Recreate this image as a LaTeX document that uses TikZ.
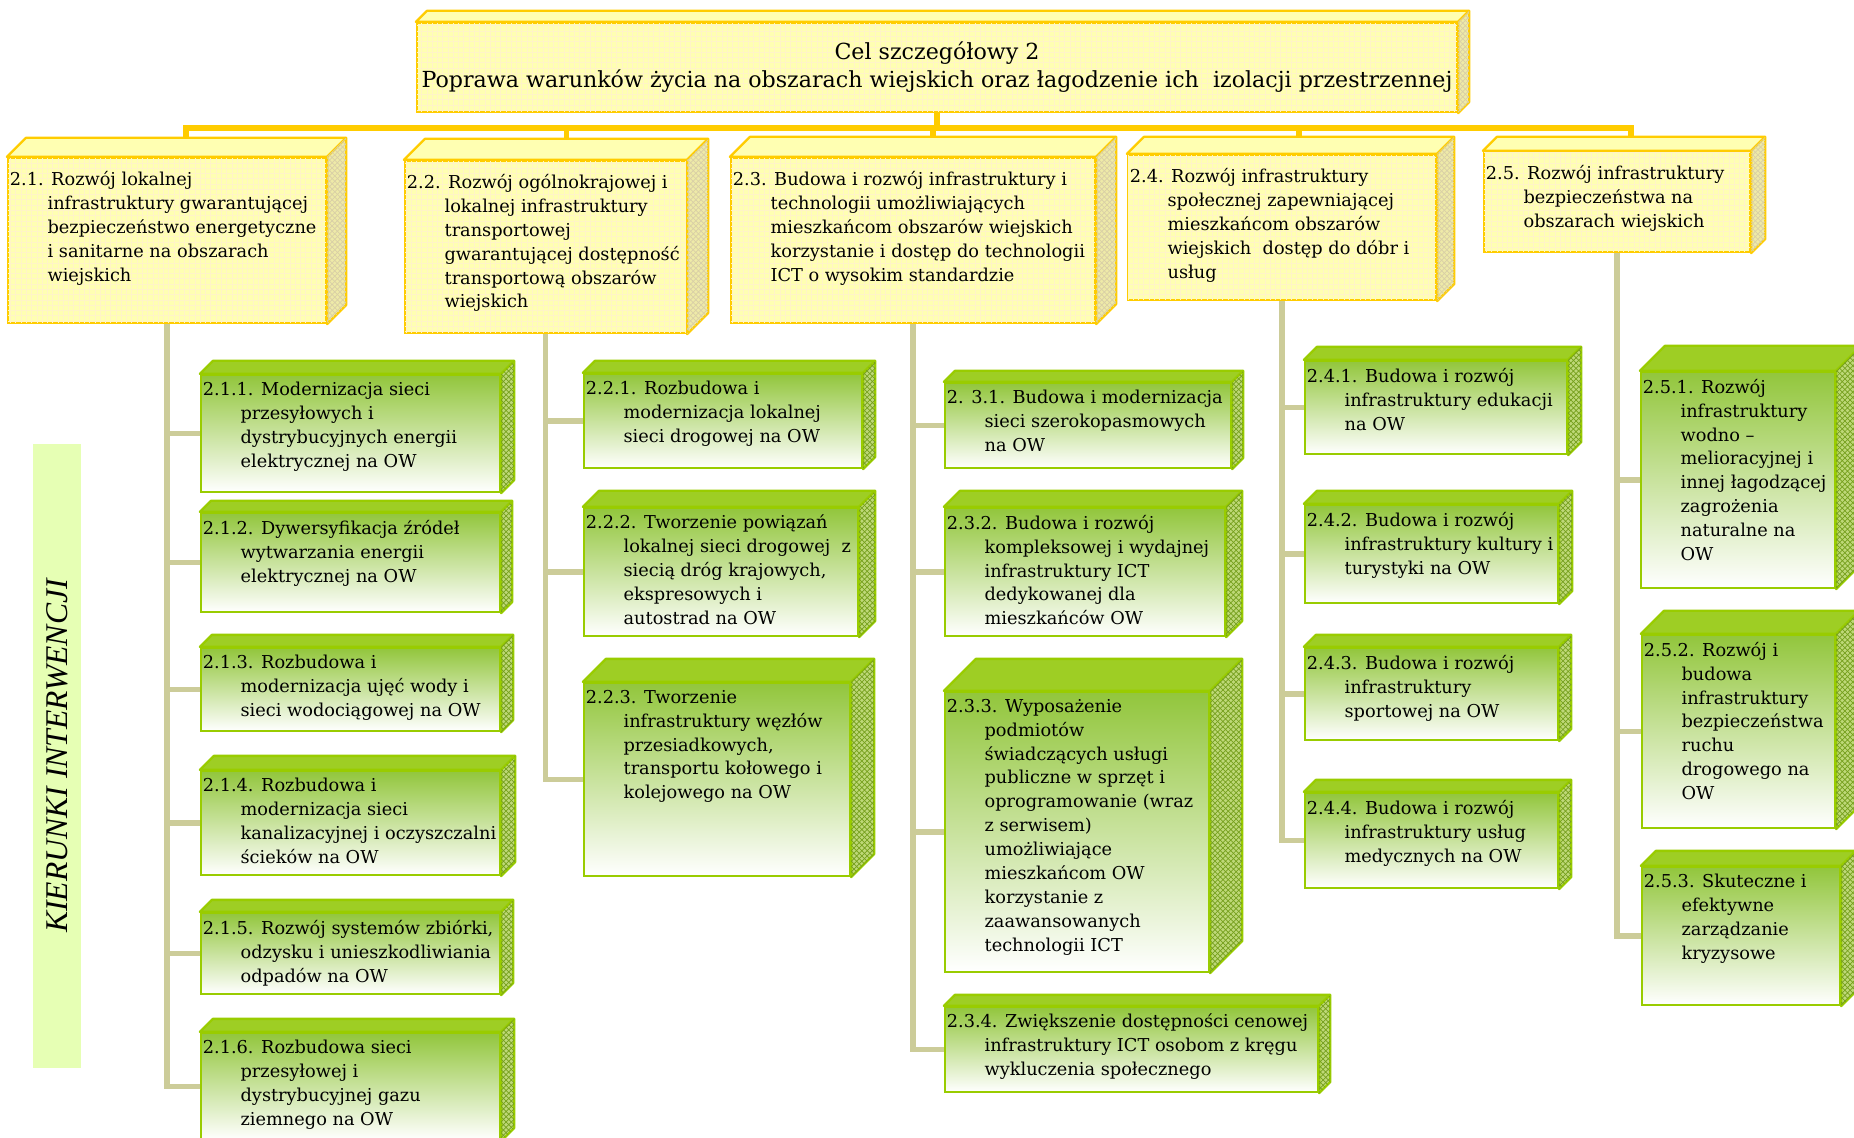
\documentclass[tikz,border=0pt]{standalone}
\usepackage{fontspec}
\setmainfont{DejaVu Serif}
\newfontfamily\sidefont{Liberation Serif}
\usetikzlibrary{calc, fit, patterns}

\definecolor{trunkgold}{RGB}{255,204,0}
\definecolor{boxyellow}{RGB}{255,255,178}
\definecolor{sideyellow}{RGB}{238,234,168}
\definecolor{stemolive}{RGB}{204,204,153}
\definecolor{edgegreen}{RGB}{153,204,0}
\definecolor{topgreen}{RGB}{158,206,36}
\definecolor{sidegreen}{RGB}{190,216,120}
\definecolor{hatchgreen}{RGB}{118,160,30}
\definecolor{shadegreen}{RGB}{146,198,60}
\definecolor{labelgreen}{RGB}{230,255,180}

% continuation line with hanging indent
\newcommand{\nxt}{\\\hspace*{21.5pt}}

\begin{document}
\begin{tikzpicture}[x=0.02cm, y=-0.02cm,
  trunk/.style={draw=trunkgold, line width=3pt},
  stem/.style={draw=stemolive, line width=3.4pt},
  face/.style={inner sep=0pt, line width=1.3pt},
  yface/.style={face, draw=trunkgold, fill=boxyellow, postaction={pattern=grid, pattern color=trunkgold!22}},
  gface/.style={face, draw=edgegreen, top color=shadegreen, bottom color=white},
  ytop/.style={fill=boxyellow, draw=trunkgold, line width=1.3pt, line join=round},
  yside/.style={fill=sideyellow, draw=trunkgold, line width=1.3pt, line join=round, postaction={pattern=crosshatch, pattern color=trunkgold!40!gray!50}},
  gtop/.style={fill=topgreen, draw=edgegreen, line width=1.3pt, line join=round},
  gside/.style={fill=sidegreen, draw=edgegreen, line width=1.3pt, line join=round, postaction={pattern=crosshatch, pattern color=hatchgreen}},
  txt/.style={anchor=north west, align=left, inner xsep=1.5pt, inner ysep=4.5pt, font=\fontsize{10.1}{13.6}\selectfont},
  ytxt/.style={txt, inner ysep=8pt}
]
\useasboundingbox (0,0) rectangle (1854,1138);

% Side label
\node[fill=labelgreen, inner sep=0pt, fit={(33,444) (81,1068)}] (kier) {};
\node[rotate=90, font=\sidefont\itshape\fontsize{18}{20}\selectfont] (kiertxt) at (kier.center) {KIERUNKI INTERWENCJI};

% Goal and priorities
\node[yface, fit={(417,23) (1457,112)}] (cel) {};
\node[yface, fit={(8,158) (326,323)}] (b21) {};
\node[yface, fit={(405,161) (686,333)}] (b22) {};
\node[yface, fit={(731,158) (1095,323)}] (b23) {};
\node[yface, fit={(1128,155) (1436,300)}] (b24) {};
\node[yface, fit={(1484,152) (1750,252)}] (b25) {};

\foreach \nm/\dep in {cel/11, b21/19, b22/21, b23/20, b24/17, b25/14}{
  \filldraw[ytop] (\nm.north west) -- ++(\dep,-\dep) -- ($(\nm.north east)+(\dep,-\dep)$) -- (\nm.north east) -- cycle;
  \filldraw[yside] (\nm.north east) -- ++(\dep,-\dep) -- ($(\nm.south east)+(\dep,-\dep)$) -- (\nm.south east) -- cycle;
}

% Directions of intervention
\node[gface, fit={(201,375) (500,492)}] (b211) {};
\node[gface, fit={(201,513) (500,612)}] (b212) {};
\node[gface, fit={(201,648) (500,731)}] (b213) {};
\node[gface, fit={(201,771) (500,875)}] (b214) {};
\node[gface, fit={(201,913) (500,994)}] (b215) {};
\node[gface, fit={(201,1033) (500,1140)}] (b216) {};

\node[gface, fit={(584,374) (862,468)}] (b221) {};
\node[gface, fit={(584,508) (858,636)}] (b222) {};
\node[gface, fit={(584,683) (850,876)}] (b223) {};

\node[gface, fit={(945,383) (1231,468)}] (b231) {};
\node[gface, fit={(945,508) (1225,636)}] (b232) {};
\node[gface, fit={(945,692) (1209,972)}] (b233) {};
\node[gface, fit={(945,1007) (1318,1092)}] (b234) {};

\node[gface, fit={(1305,361) (1567,454)}] (b241) {};
\node[gface, fit={(1305,505) (1558,603)}] (b242) {};
\node[gface, fit={(1305,648) (1558,740)}] (b243) {};
\node[gface, fit={(1305,793) (1558,888)}] (b244) {};

\node[gface, fit={(1641,372) (1835,588)}] (b251) {};
\node[gface, fit={(1642,635) (1835,828)}] (b252) {};
\node[gface, fit={(1642,867) (1840,1005)}] (b253) {};

\foreach \nm/\dep in {b211/13, b212/11, b213/12, b214/14, b215/12, b216/13,
                      b221/12, b222/16, b223/23,
                      b231/11, b232/16, b233/32, b234/11,
                      b241/13, b242/13, b243/12, b244/12,
                      b251/25, b252/23, b253/15}{
  \filldraw[gtop] (\nm.north west) -- ++(\dep,-\dep) -- ($(\nm.north east)+(\dep,-\dep)$) -- (\nm.north east) -- cycle;
  \filldraw[gside] (\nm.north east) -- ++(\dep,-\dep) -- ($(\nm.south east)+(\dep,-\dep)$) -- (\nm.south east) -- cycle;
}

% Connectors
\coordinate (hub) at (937,128);
\draw[trunk] (cel.south) -- (hub);
\foreach \nm/\dep in {b21/19, b22/21, b23/20, b24/17, b25/14}
  \draw[trunk] (hub) -| ($(\nm.north)+(\dep,-\dep)$);

\foreach \src/\dst in {b21/b211, b21/b212, b21/b213, b21/b214, b21/b215, b21/b216,
                       b22/b221, b22/b222, b22/b223,
                       b23/b231, b23/b232, b23/b233, b23/b234,
                       b24/b241, b24/b242, b24/b243, b24/b244,
                       b25/b251, b25/b252, b25/b253}
  \draw[stem] (\src.south) |- (\dst.west);

% Texts
\node[align=center, font=\fontsize{12.6}{16}\selectfont] (celtxt) at (cel.center) {Cel szczegółowy 2\\Poprawa warunków życia na obszarach wiejskich oraz łagodzenie ich\ \ izolacji przestrzennej};

\node[ytxt] (t21) at (b21.north west) {2.1. Rozwój lokalnej\nxt infrastruktury gwarantującej\nxt bezpieczeństwo energetyczne\nxt i sanitarne na obszarach\nxt wiejskich};
\node[ytxt] (t22) at (b22.north west) {2.2. Rozwój ogólnokrajowej i\nxt lokalnej infrastruktury\nxt transportowej\nxt gwarantującej dostępność\nxt transportową obszarów\nxt wiejskich};
\node[ytxt] (t23) at (b23.north west) {2.3. Budowa i rozwój infrastruktury i\nxt technologii umożliwiających\nxt mieszkańcom obszarów wiejskich\nxt korzystanie i dostęp do technologii\nxt ICT o wysokim standardzie};
\node[ytxt] (t24) at (b24.north west) {2.4. Rozwój infrastruktury\nxt społecznej zapewniającej\nxt mieszkańcom obszarów\nxt wiejskich\ \ dostęp do dóbr i\nxt usług};
\node[ytxt] (t25) at (b25.north west) {2.5. Rozwój infrastruktury\nxt bezpieczeństwa na\nxt obszarach wiejskich};

\node[txt] (t211) at (b211.north west) {2.1.1. Modernizacja sieci\nxt przesyłowych i\nxt dystrybucyjnych energii\nxt elektrycznej na OW};
\node[txt] (t212) at (b212.north west) {2.1.2. Dywersyfikacja źródeł\nxt wytwarzania energii\nxt elektrycznej na OW};
\node[txt] (t213) at (b213.north west) {2.1.3. Rozbudowa i\nxt modernizacja ujęć wody i\nxt sieci wodociągowej na OW};
\node[txt] (t214) at (b214.north west) {2.1.4. Rozbudowa i\nxt modernizacja sieci\nxt kanalizacyjnej i oczyszczalni\nxt ścieków na OW};
\node[txt] (t215) at (b215.north west) {2.1.5. Rozwój systemów zbiórki,\nxt odzysku i unieszkodliwiania\nxt odpadów na OW};
\node[txt] (t216) at (b216.north west) {2.1.6. Rozbudowa sieci\nxt przesyłowej i\nxt dystrybucyjnej gazu\nxt ziemnego na OW};

\node[txt] (t221) at (b221.north west) {2.2.1. Rozbudowa i\nxt modernizacja lokalnej\nxt sieci drogowej na OW};
\node[txt] (t222) at (b222.north west) {2.2.2. Tworzenie powiązań\nxt lokalnej sieci drogowej\ \ z\nxt siecią dróg krajowych,\nxt ekspresowych i\nxt autostrad na OW};
\node[txt] (t223) at (b223.north west) {2.2.3. Tworzenie\nxt infrastruktury węzłów\nxt przesiadkowych,\nxt transportu kołowego i\nxt kolejowego na OW};

\node[txt] (t231) at (b231.north west) {2. 3.1. Budowa i modernizacja\nxt sieci szerokopasmowych\nxt na OW};
\node[txt] (t232) at (b232.north west) {2.3.2. Budowa i rozwój\nxt kompleksowej i wydajnej\nxt infrastruktury ICT\nxt dedykowanej dla\nxt mieszkańców OW};
\node[txt] (t233) at (b233.north west) {2.3.3. Wyposażenie\nxt podmiotów\nxt świadczących usługi\nxt publiczne w sprzęt i\nxt oprogramowanie (wraz\nxt z serwisem)\nxt umożliwiające\nxt mieszkańcom OW\nxt korzystanie z\nxt zaawansowanych\nxt technologii ICT};
\node[txt] (t234) at (b234.north west) {2.3.4. Zwiększenie dostępności cenowej\nxt infrastruktury ICT osobom z kręgu\nxt wykluczenia społecznego};

\node[txt] (t241) at (b241.north west) {2.4.1. Budowa i rozwój\nxt infrastruktury edukacji\nxt na OW};
\node[txt] (t242) at (b242.north west) {2.4.2. Budowa i rozwój\nxt infrastruktury kultury i\nxt turystyki na OW};
\node[txt] (t243) at (b243.north west) {2.4.3. Budowa i rozwój\nxt infrastruktury\nxt sportowej na OW};
\node[txt] (t244) at (b244.north west) {2.4.4. Budowa i rozwój\nxt infrastruktury usług\nxt medycznych na OW};

\node[txt] (t251) at (b251.north west) {2.5.1. Rozwój\nxt infrastruktury\nxt wodno –\nxt melioracyjnej i\nxt innej łagodzącej\nxt zagrożenia\nxt naturalne na\nxt OW};
\node[txt] (t252) at (b252.north west) {2.5.2. Rozwój i\nxt budowa\nxt infrastruktury\nxt bezpieczeństwa\nxt ruchu\nxt drogowego na\nxt OW};
\node[txt] (t253) at (b253.north west) {2.5.3. Skuteczne i\nxt efektywne\nxt zarządzanie\nxt kryzysowe};

\end{tikzpicture}
\end{document}
